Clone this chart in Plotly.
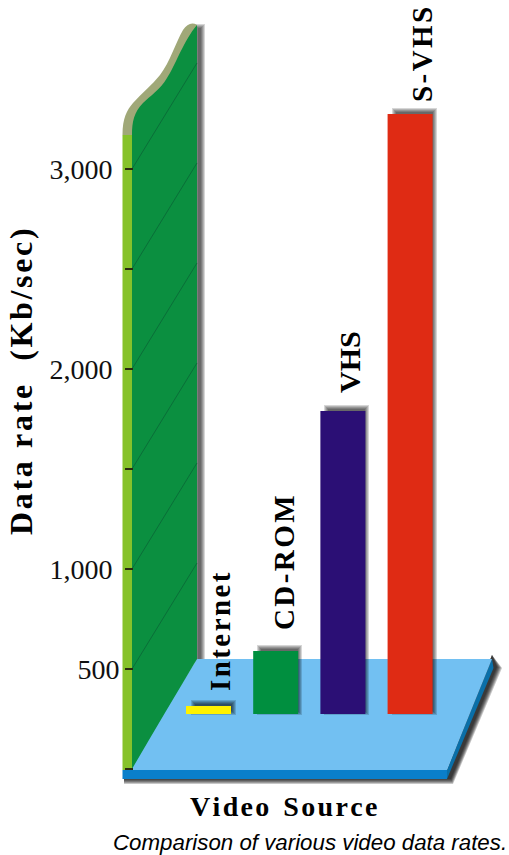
import plotly.graph_objects as go

W, H = 509, 855
sources = ["Internet", "CD-ROM", "VHS", "S-VHS"]
heights = [40, 315, 1515, 3000]
floor_level = 275
bar_colors = ["#FFF200", "#008F3F", "#2B0F75", "#DF2B14"]
tick_values = [0, 500, 1000, 1500, 2000, 2500, 3000]
tick_labels = ["", "500", "1,000\u00a0", "", "2,000\u00a0", "", "3,000\u00a0"]

def px(x):
    return x / W
def py(y):
    return 1 - y / H
def pt(p):
    return f"{px(p[0]):.5f},{py(p[1]):.5f}"
def poly(points, fill, opacity=1.0):
    d = "M " + " L ".join(pt(p) for p in points) + " Z"
    return dict(type="path", xref="paper", yref="paper", path=d, fillcolor=fill,
                line=dict(width=0), opacity=opacity, layer="below")
def box(x0, y0, x1, y1, fill, opacity=1.0):
    return poly([(x0, y0), (x1, y0), (x1, y1), (x0, y1)], fill, opacity)
def soft(x0, y0, x1, y1, spread=(3, 2, 1, 0, -1)):
    return [box(x0 - k, y0 - k, x1 + k, y1 + k, "#000000", 0.16) for k in spread]
def curve(start, segments, fill, tail=()):
    d = "M " + pt(start)
    for s in segments:
        d += " C " + " ".join(pt(p) for p in s)
    for p in tail:
        d += " L " + pt(p)
    d += " Z"
    return dict(type="path", xref="paper", yref="paper", path=d, fillcolor=fill,
                line=dict(width=0), layer="below")

shapes = []
# floor shadow
for k in (5, 4, 3, 2, 1, 0):
    shapes.append(poly([(124, 770), (124, 779 + k), (451 + k * 0.4, 779 + k), (497 + k, 667 + k * 0.2), (492, 655), (447, 770)], "#000000", 0.22))
# wall shadow
shapes += soft(197, 27, 202, 660)
# floor
shapes.append(poly([(122.5, 770), (447, 770), (447, 779), (122.5, 779)], "#0A7FCB"))
shapes.append(poly([(447, 770), (492, 659), (493.5, 668), (447, 779)], "#0A6FA8"))
shapes.append(poly([(197, 659), (492, 659), (447, 770), (128, 770)], "#72C0F2"))
# wall
top_inner = [[(132, 122), (134, 112), (143, 103)], [(150, 96), (160, 90), (167, 78)],
             [(175, 66), (184, 40), (197, 25)]]
shapes.append(curve((122.5, 135), [[(122.5, 118), (127, 110), (133, 103)], [(142, 93), (152, 85), (160, 75)],
                                   [(170, 62), (176, 42), (183, 30)], [(187, 24), (192, 22), (197, 25)]],
                    "#A0A878", tail=[(197, 140), (132, 140)]))
shapes.append(curve((132, 135), top_inner + [[(197, 300), (197, 500), (197, 659)], [(175, 696), (153, 733), (132, 769)]], "#0B8F40"))
shapes.append(box(122.5, 135, 132, 770, "#86C22A"))
for v in tick_values[1:]:
    yy = 769 - v * 0.2
    d = f"M {pt((132, yy))} L {pt((197, yy - 106))}"
    shapes.append(dict(type="path", xref="paper", yref="paper", path=d,
                       line=dict(color="#0A6E38", width=1), layer="below"))
# bar shadows
edges = [(186, 231), (252, 297), (319, 364), (387, 432)]
for (x0, x1), h in zip(edges, heights):
    top = 769 - (floor_level + h) * 0.2
    shapes += soft(x0 + 8, top - 3, x1 + 2, 712)

fig = go.Figure(go.Bar(x=sources, y=heights, base=floor_level, marker_color=bar_colors,
                       marker_line_width=0, hoverinfo="skip"))

serif = "Liberation Serif"
def t(x, y, text, size, angle=0, family=serif, color="black", bold=True, italic=False):
    s = f"<b>{text}</b>" if bold else text
    if italic:
        s = f"<i>{s}</i>"
    return dict(xref="paper", yref="paper", x=px(x), y=py(y), text=s, showarrow=False, textangle=angle,
                font=dict(family=family, size=size, color=color), xanchor="center", yanchor="middle")
hs = "\u200a"
def spaced(s):
    return hs.join(s)
annotations = [
    t(220, 632, spaced("Internet"), 29, -90),
    t(284, 563, spaced("CD-ROM"), 29, -90),
    t(349, 362, "VHS", 30, -90),
    t(422, 55, spaced("S-VHS"), 29, -90),
    t(21, 382, spaced("Data rate") + "\u00a0\u00a0\u00a0" + spaced("(Kb/sec)"), 32, -90),
    t(283, 806, spaced("Video") + "\u00a0\u00a0" + spaced("Source"), 28),
    t(310, 842, "Comparison of various video data rates.", 22.3, family="Liberation Sans", bold=False, italic=True),
]

fig.update_layout(
    width=W, height=H, margin=dict(l=0, r=0, t=0, b=0), paper_bgcolor="white", plot_bgcolor="rgba(0,0,0,0)",
    showlegend=False, bargap=0.33, shapes=shapes, annotations=annotations,
    xaxis=dict(type="category", categoryorder="array", categoryarray=sources,
               range=[-208.5 / 67.2, (W - 208.5) / 67.2], visible=False, domain=[0, 1]),
    yaxis=dict(range=[-(H - 769) / 0.2, 769 / 0.2], tickmode="array", tickvals=tick_values, ticktext=tick_labels,
               anchor="free", position=133 / W, side="left", ticks="outside", ticklen=8, tickwidth=2,
               tickcolor="#2A2A10", showgrid=False, zeroline=False, showline=False,
               tickfont=dict(family=serif, size=28, color="#111111")),
)
fig.write_html("out.html", config=dict(displayModeBar=False),
               post_script="document.body.style.margin='0';document.body.style.overflow='hidden';")
